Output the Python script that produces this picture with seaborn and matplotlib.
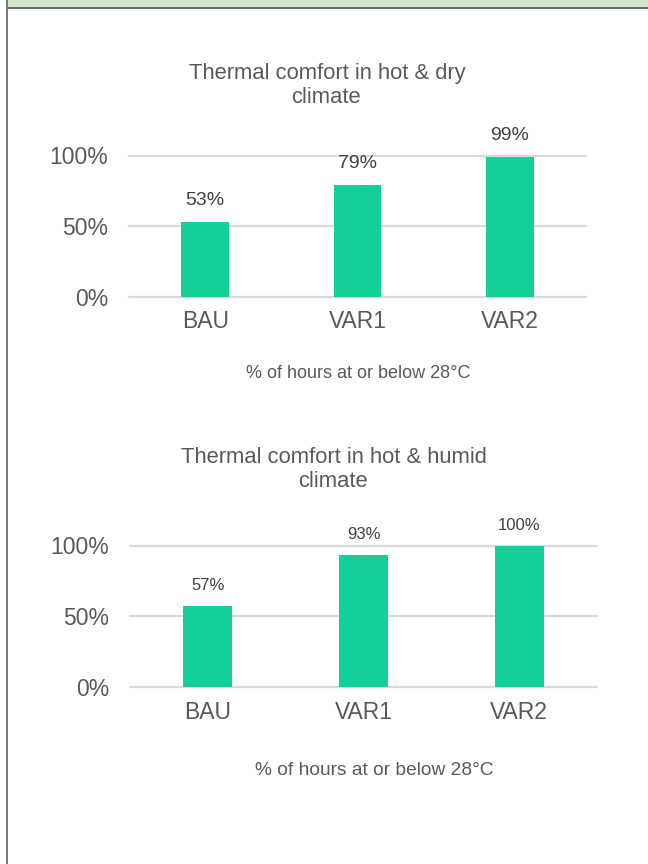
import matplotlib
matplotlib.use("Agg")
import matplotlib.pyplot as plt
from matplotlib.patches import Rectangle
import seaborn as sns
import pandas as pd

# Scenario labels and share of hours at or below 28 °C
categories = ["BAU", "VAR1", "VAR2"]
dry_values = [0.53, 0.79, 0.99]
humid_values = [0.57, 0.93, 1.00]
dry_labels = ["53%", "79%", "99%"]
humid_labels = ["57%", "93%", "100%"]
ytick_values = [0.0, 0.5, 1.0]
ytick_labels = ["0%", "50%", "100%"]

BAR = "#13cf99"
GRID = "#d9d9d9"
TXT = "#595959"
VAL = "#404040"

sns.set_theme(style="white")
plt.rcParams["font.family"] = ["Liberation Sans", "DejaVu Sans"]

W, H = 648, 864
fig = plt.figure(figsize=(W / 100, H / 100), dpi=100)
fig.patch.set_facecolor("white")


def fx(px):
    return px / W


def fy(py):
    return 1 - py / H


# frame: green header strip, its dark rule and the left border
fig.patches.append(Rectangle((fx(7), fy(7)), fx(W - 7), 7 / H, transform=fig.transFigure,
                             facecolor="#d4e9cc", edgecolor="none", zorder=0))
fig.patches.append(Rectangle((fx(7), fy(9)), fx(W - 7), 2 / H, transform=fig.transFigure,
                             facecolor="#6e6e6e", edgecolor="none", zorder=1))
fig.patches.append(Rectangle((fx(6), 0), 1.6 / W, 1, transform=fig.transFigure,
                             facecolor="#7a7a7a", edgecolor="none", zorder=1))


def panel(rect, values, labels, val_size, val_offset):
    ax = fig.add_axes(rect)
    df = pd.DataFrame({"scenario": categories, "share": values})
    sns.barplot(data=df, x="scenario", y="share", color=BAR, saturation=1,
                width=0.315, ax=ax, zorder=3)
    for p in ax.patches:
        p.set_edgecolor("none")
    ax.set_ylim(0, 1)
    ax.set_xlim(-0.5, 2.5)
    ax.set_yticks(ytick_values)
    ax.set_yticklabels(ytick_labels)
    ax.yaxis.grid(True, color=GRID, linewidth=1.6, zorder=0)
    ax.set_axisbelow(True)
    for s in ax.spines.values():
        s.set_visible(False)
    ax.set_xlabel("")
    ax.set_ylabel("")
    ax.tick_params(axis="y", length=0, pad=15, labelsize=16.5, labelcolor=TXT)
    ax.tick_params(axis="x", length=0, pad=10, labelsize=16.5, labelcolor=TXT)
    for i, (v, lab) in enumerate(zip(values, labels)):
        ax.annotate(lab, (i, v), xytext=(0, val_offset), textcoords="offset points",
                    ha="center", va="baseline", fontsize=val_size, color=VAL,
                    annotation_clip=False)
    for line in ax.get_ygridlines():
        line.set_clip_on(False)
    return ax


# hot & dry panel
panel([fx(129), 1 - 296.5 / H, fx(457), 141 / H], dry_values, dry_labels, 14, 12.3)
fig.text(fx(327.5), fy(79.5), "Thermal comfort in hot & dry", ha="center", va="baseline",
         fontsize=15.8, color=TXT)
fig.text(fx(326), fy(103), "climate", ha="center", va="baseline", fontsize=15.8, color=TXT)
fig.text(fx(358), fy(377.7), "% of hours at or below 28°C", ha="center", va="baseline",
         fontsize=13, color=TXT)

# hot & humid panel
panel([fx(130), 1 - 687 / H, fx(467), 141.5 / H], humid_values, humid_labels, 12, 11.5)
fig.text(fx(334), fy(463), "Thermal comfort in hot & humid", ha="center", va="baseline",
         fontsize=15.8, color=TXT)
fig.text(fx(333), fy(486.7), "climate", ha="center", va="baseline", fontsize=15.8, color=TXT)
fig.text(fx(374), fy(775), "% of hours at or below 28°C", ha="center", va="baseline",
         fontsize=13.8, color=TXT)

fig.savefig("out.png", dpi=100, facecolor="white")
